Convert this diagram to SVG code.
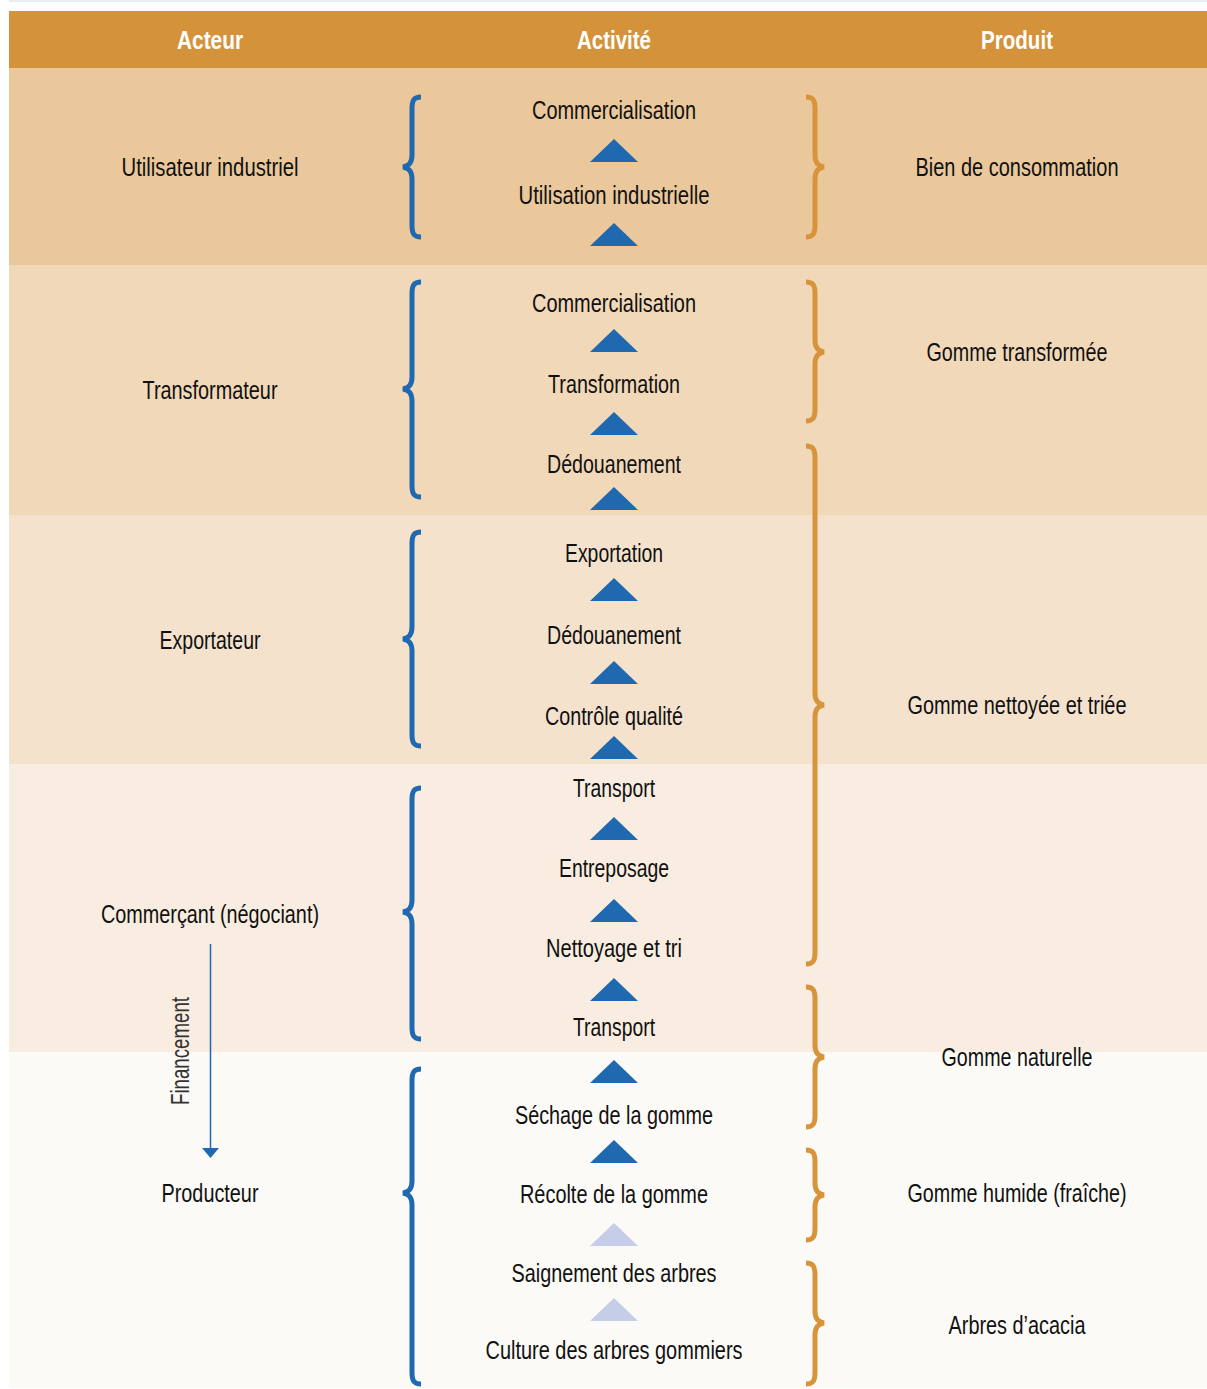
<svg xmlns="http://www.w3.org/2000/svg" width="1207" height="1389" viewBox="0 0 1207 1389">
<style>
text{font-family:"Liberation Sans Narrow","Liberation Sans",Arial,sans-serif;font-size:26px;fill:#111;text-anchor:middle}
.h{fill:#fff;font-weight:bold}
.lb{fill:none;stroke:#1f69b1;stroke-width:5}
.rb{fill:none;stroke:#d8943a;stroke-width:5}
.t{fill:#1f69b1}
.tl{fill:#c5cde9}
</style>
<defs>
<polygon id="tri" points="0,-12 24,11 -24,11"/>
</defs>
<rect width="1207" height="1389" fill="#fff"/>
<rect x="9" y="0" width="1198" height="2" fill="#e8edf3"/>
<g id="header">
<rect x="9" y="11" width="1198" height="57" fill="#d4923a"/>
<text class="h" x="210" y="49" textLength="66" lengthAdjust="spacingAndGlyphs">Acteur</text>
<text class="h" x="614" y="49" textLength="74" lengthAdjust="spacingAndGlyphs">Activité</text>
<text class="h" x="1017" y="49" textLength="72" lengthAdjust="spacingAndGlyphs">Produit</text>
</g>
<g id="bands">
<rect x="9" y="68" width="1198" height="197" fill="#eac89c"/>
<rect x="9" y="265" width="1198" height="250" fill="#f1d8b8"/>
<rect x="9" y="515" width="1198" height="249" fill="#f4e2cd"/>
<rect x="9" y="764" width="1198" height="288" fill="#f9ece0"/>
<rect x="9" y="1052" width="1198" height="336" fill="#fcfaf6"/>
</g>
<g id="actors">
<text x="210" y="176" textLength="177" lengthAdjust="spacingAndGlyphs">Utilisateur industriel</text>
<text x="210" y="399" textLength="135" lengthAdjust="spacingAndGlyphs">Transformateur</text>
<text x="210" y="649" textLength="101" lengthAdjust="spacingAndGlyphs">Exportateur</text>
<text x="210" y="923" textLength="218" lengthAdjust="spacingAndGlyphs">Commerçant (négociant)</text>
<text x="210" y="1202" textLength="97" lengthAdjust="spacingAndGlyphs">Producteur</text>
</g>
<g id="activities">
<text x="614" y="119" textLength="164" lengthAdjust="spacingAndGlyphs">Commercialisation</text>
<text x="614" y="204" textLength="191" lengthAdjust="spacingAndGlyphs">Utilisation industrielle</text>
<text x="614" y="312" textLength="164" lengthAdjust="spacingAndGlyphs">Commercialisation</text>
<text x="614" y="393" textLength="132" lengthAdjust="spacingAndGlyphs">Transformation</text>
<text x="614" y="473" textLength="134" lengthAdjust="spacingAndGlyphs">Dédouanement</text>
<text x="614" y="562" textLength="98" lengthAdjust="spacingAndGlyphs">Exportation</text>
<text x="614" y="644" textLength="134" lengthAdjust="spacingAndGlyphs">Dédouanement</text>
<text x="614" y="725" textLength="138" lengthAdjust="spacingAndGlyphs">Contrôle qualité</text>
<text x="614" y="797" textLength="82" lengthAdjust="spacingAndGlyphs">Transport</text>
<text x="614" y="877" textLength="110" lengthAdjust="spacingAndGlyphs">Entreposage</text>
<text x="614" y="957" textLength="136" lengthAdjust="spacingAndGlyphs">Nettoyage et tri</text>
<text x="614" y="1036" textLength="82" lengthAdjust="spacingAndGlyphs">Transport</text>
<text x="614" y="1124" textLength="198" lengthAdjust="spacingAndGlyphs">Séchage de la gomme</text>
<text x="614" y="1203" textLength="188" lengthAdjust="spacingAndGlyphs">Récolte de la gomme</text>
<text x="614" y="1282" textLength="205" lengthAdjust="spacingAndGlyphs">Saignement des arbres</text>
<text x="614" y="1359" textLength="257" lengthAdjust="spacingAndGlyphs">Culture des arbres gommiers</text>
</g>
<g id="products">
<text x="1017" y="176" textLength="203" lengthAdjust="spacingAndGlyphs">Bien de consommation</text>
<text x="1017" y="361" textLength="181" lengthAdjust="spacingAndGlyphs">Gomme transformée</text>
<text x="1017" y="714" textLength="219" lengthAdjust="spacingAndGlyphs">Gomme nettoyée et triée</text>
<text x="1017" y="1066" textLength="151" lengthAdjust="spacingAndGlyphs">Gomme naturelle</text>
<text x="1017" y="1202" textLength="219" lengthAdjust="spacingAndGlyphs">Gomme humide (fraîche)</text>
<text x="1017" y="1334" textLength="137" lengthAdjust="spacingAndGlyphs">Arbres d’acacia</text>
</g>
<g id="connectors">
<use href="#tri" class="t" x="614" y="151"/>
<use href="#tri" class="t" x="614" y="235"/>
<use href="#tri" class="t" x="614" y="341"/>
<use href="#tri" class="t" x="614" y="424"/>
<use href="#tri" class="t" x="614" y="499"/>
<use href="#tri" class="t" x="614" y="590"/>
<use href="#tri" class="t" x="614" y="673"/>
<use href="#tri" class="t" x="614" y="748"/>
<use href="#tri" class="t" x="614" y="829"/>
<use href="#tri" class="t" x="614" y="911"/>
<use href="#tri" class="t" x="614" y="990"/>
<use href="#tri" class="t" x="614" y="1072"/>
<use href="#tri" class="t" x="614" y="1152"/>
<use href="#tri" class="tl" x="614" y="1235"/>
<use href="#tri" class="tl" x="614" y="1310"/>
<line x1="210.5" y1="944" x2="210.5" y2="1150" stroke="#1f69b1" stroke-width="1.5"/>
<polygon points="202,1148 219,1148 210.5,1158" fill="#1f69b1"/>
<text x="0" y="0" transform="translate(189,1051) rotate(-90)" style="fill:#333;font-size:25px" textLength="108" lengthAdjust="spacingAndGlyphs">Financement</text>
</g>
<g id="braces-left">
<path class="lb" d="M421,97 C414,97 412,100 412,109 L412,155 C412,163 409,166 403,167 C409,168 412,171 412,179 L412,225 C412,234 414,237 421,237"/>
<path class="lb" d="M421,282 C414,282 412,285 412,294 L412,377 C412,385 409,388 403,389 C409,390 412,393 412,401 L412,485 C412,494 414,497 421,497"/>
<path class="lb" d="M421,532 C414,532 412,535 412,544 L412,627 C412,635 409,638 403,639 C409,640 412,643 412,651 L412,734 C412,743 414,746 421,746"/>
<path class="lb" d="M421,788 C414,788 412,791 412,800 L412,900 C412,908 409,911 403,912 C409,913 412,916 412,924 L412,1027 C412,1036 414,1039 421,1039"/>
<path class="lb" d="M421,1069 C414,1069 412,1072 412,1081 L412,1181 C412,1189 409,1192 403,1193 C409,1194 412,1197 412,1205 L412,1372 C412,1381 414,1384 421,1384"/>
</g>
<g id="braces-right">
<path class="rb" d="M806,97 C813,97 815,100 815,109 L815,155 C815,163 818,166 824,167 C818,168 815,171 815,179 L815,225 C815,234 813,237 806,237"/>
<path class="rb" d="M806,282 C813,282 815,285 815,294 L815,340 C815,348 818,351 824,352 C818,353 815,356 815,364 L815,409 C815,418 813,421 806,421"/>
<path class="rb" d="M806,446 C813,446 815,449 815,458 L815,693 C815,701 818,704 824,705 C818,706 815,709 815,717 L815,952 C815,961 813,964 806,964"/>
<path class="rb" d="M806,987 C813,987 815,990 815,999 L815,1045 C815,1053 818,1056 824,1057 C818,1058 815,1061 815,1069 L815,1115 C815,1124 813,1127 806,1127"/>
<path class="rb" d="M806,1150 C813,1150 815,1153 815,1162 L815,1183 C815,1191 818,1194 824,1195 C818,1196 815,1199 815,1207 L815,1228 C815,1237 813,1240 806,1240"/>
<path class="rb" d="M806,1263 C813,1263 815,1266 815,1275 L815,1311 C815,1319 818,1322 824,1323 C818,1324 815,1327 815,1335 L815,1372 C815,1381 813,1384 806,1384"/>
</g>
</svg>
